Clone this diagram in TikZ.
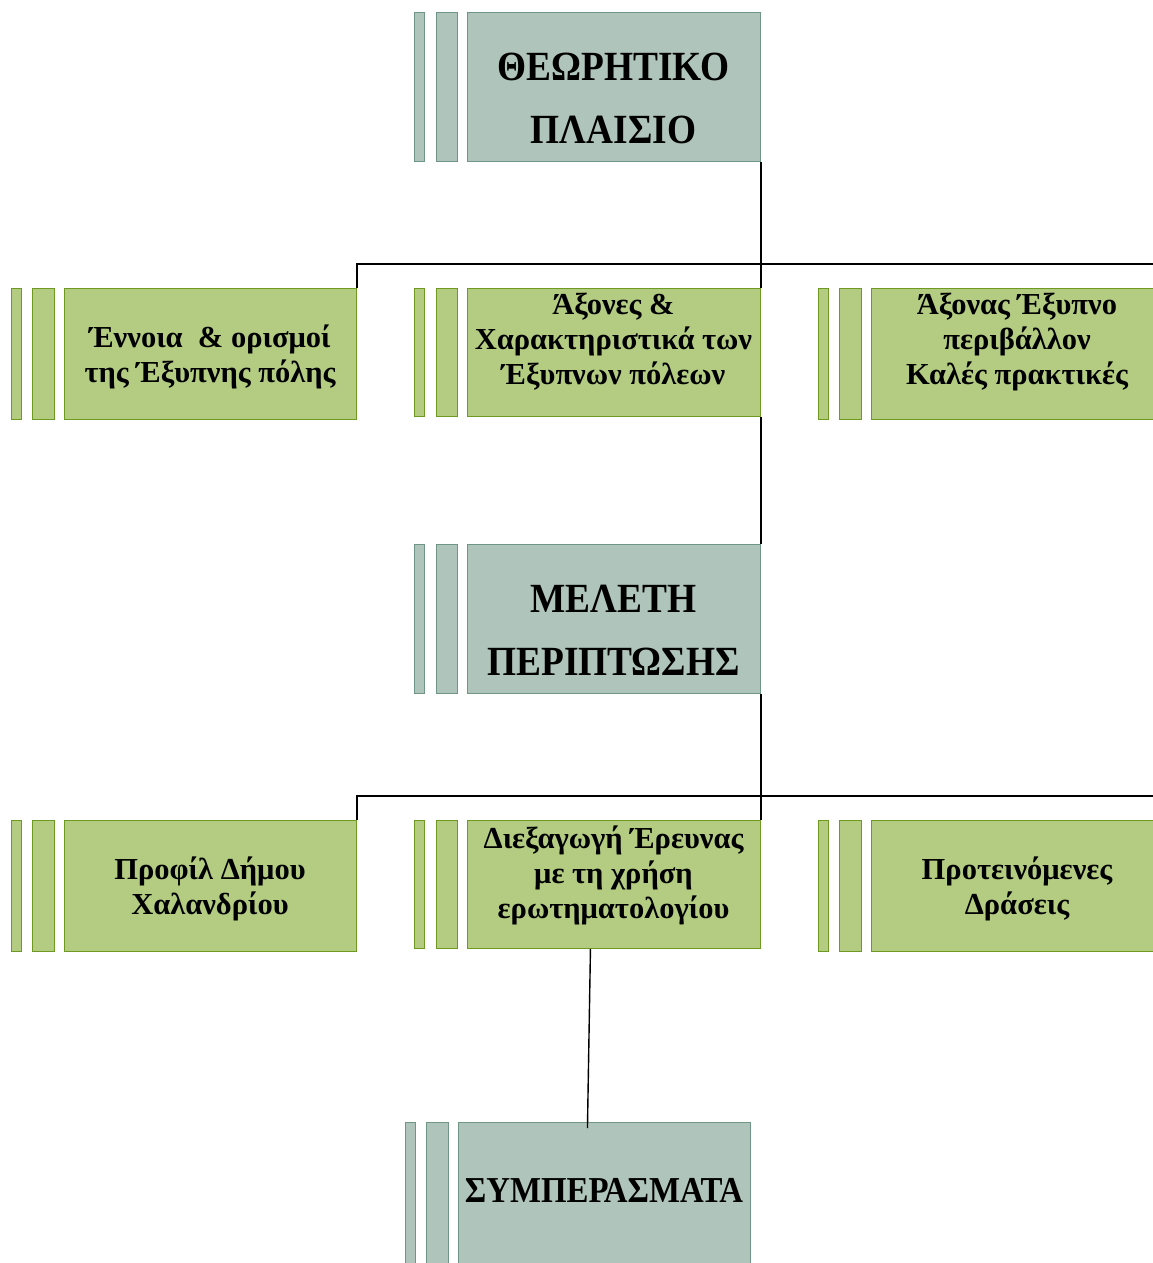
\documentclass[tikz,border=0pt]{standalone}
\usepackage{fontspec}
\setmainfont{Liberation Serif}
\newfontfamily\headfont[FakeStretch=0.9]{Liberation Serif}
\definecolor{grayfill}{HTML}{AFC4BB}
\definecolor{grayedge}{HTML}{6F9587}
\definecolor{greenfill}{HTML}{B3CC82}
\definecolor{greenedge}{HTML}{6E9A22}
\tikzset{
  graybox/.style={draw=grayedge, fill=grayfill, line width=0.9pt, inner sep=0pt, anchor=north west},
  greenbox/.style={draw=greenedge, fill=greenfill, line width=0.9pt, inner sep=0pt, anchor=north west},
  headtext/.style={font=\headfont\bfseries\fontsize{41.5}{63}\selectfont, align=center},
  bodytext/.style={font=\bfseries\fontsize{30.5}{35}\selectfont, align=center},
  link/.style={draw=black, line width=1.4pt}
}
\begin{document}
\begin{tikzpicture}[x=1pt, y=-1pt]
\useasboundingbox (0,0) rectangle (1153,1263);

% --- theoretical framework ---
\node[graybox, minimum width=10pt, minimum height=149pt] (thA) at (414,12) {};
\node[graybox, minimum width=21pt, minimum height=149pt] (thB) at (436,12) {};
\node[graybox, minimum width=293pt, minimum height=149pt] (theory) at (467,12) {};
\node[headtext] (theoryT) at (613.5,98) {ΘΕΩΡΗΤΙΚΟ\\ΠΛΑΙΣΙΟ};

% --- first row ---
\node[greenbox, minimum width=10pt, minimum height=131pt] (coA) at (11,288) {};
\node[greenbox, minimum width=22pt, minimum height=131pt] (coB) at (32,288) {};
\node[greenbox, minimum width=292pt, minimum height=131pt] (concept) at (64,288) {};
\node[bodytext] (conceptT) at (210,357) {Έννοια \ \& ορισμοί\\της Έξυπνης πόλης};

\node[greenbox, minimum width=10pt, minimum height=128pt] (axA) at (414,288) {};
\node[greenbox, minimum width=21pt, minimum height=128pt] (axB) at (436,288) {};
\node[greenbox, minimum width=293pt, minimum height=128pt] (axes) at (467,288) {};
\node[bodytext] (axesT) at (613.5,342) {Άξονες \&\\Χαρακτηριστικά των\\Έξυπνων πόλεων};

\node[greenbox, minimum width=10pt, minimum height=131pt] (smA) at (818,288) {};
\node[greenbox, minimum width=22pt, minimum height=131pt] (smB) at (839,288) {};
\node[greenbox, minimum width=300pt, minimum height=131pt] (smart) at (871,288) {};
\node[bodytext] (smartT) at (1017,342) {Άξονας Έξυπνο\\περιβάλλον\\Καλές πρακτικές};

% --- case study ---
\node[graybox, minimum width=10pt, minimum height=149pt] (stA) at (414,544) {};
\node[graybox, minimum width=21pt, minimum height=149pt] (stB) at (436,544) {};
\node[graybox, minimum width=293pt, minimum height=149pt] (study) at (467,544) {};
\node[headtext] (studyT) at (613.5,630) {ΜΕΛΕΤΗ\\ΠΕΡΙΠΤΩΣΗΣ};

% --- second row ---
\node[greenbox, minimum width=10pt, minimum height=131pt] (prA) at (11,820) {};
\node[greenbox, minimum width=22pt, minimum height=131pt] (prB) at (32,820) {};
\node[greenbox, minimum width=292pt, minimum height=131pt] (profile) at (64,820) {};
\node[bodytext] (profileT) at (210,889) {Προφίλ Δήμου\\Χαλανδρίου};

\node[greenbox, minimum width=10pt, minimum height=128pt] (reA) at (414,820) {};
\node[greenbox, minimum width=21pt, minimum height=128pt] (reB) at (436,820) {};
\node[greenbox, minimum width=293pt, minimum height=128pt] (research) at (467,820) {};
\node[bodytext] (researchT) at (613.5,875) {Διεξαγωγή Έρευνας\\με τη χρήση\\ερωτηματολογίου};

\node[greenbox, minimum width=10pt, minimum height=131pt] (acA) at (818,820) {};
\node[greenbox, minimum width=22pt, minimum height=131pt] (acB) at (839,820) {};
\node[greenbox, minimum width=300pt, minimum height=131pt] (actions) at (871,820) {};
\node[bodytext] (actionsT) at (1017,889) {Προτεινόμενες\\Δράσεις};

% --- conclusions ---
\node[graybox, minimum width=10pt, minimum height=160pt] (cnA) at (405,1122) {};
\node[graybox, minimum width=22pt, minimum height=160pt] (cnB) at (426,1122) {};
\node[graybox, minimum width=292pt, minimum height=160pt] (concl) at (458,1122) {};
\node[headtext, font=\headfont\bfseries\fontsize{36.5}{40}\selectfont] (conclT) at (604,1190) {ΣΥΜΠΕΡΑΣΜΑΤΑ};

% --- connectors ---
\coordinate (bus1) at (1153,264);
\coordinate (bus2) at (1153,796);
\draw[link] (theory.south east) -- (axes.north east);
\draw[link] (concept.north east) -- (concept.north east |- bus1) -- (bus1);
\draw[link] (axes.south east) -- (study.north east);
\draw[link] (study.south east) -- (research.north east);
\draw[link] (profile.north east) -- (profile.north east |- bus2) -- (bus2);
\draw[link] ([xshift=-23.5pt]research.south) -- ([xshift=-17pt,yshift=-6pt]concl.north);
\end{tikzpicture}
\end{document}
